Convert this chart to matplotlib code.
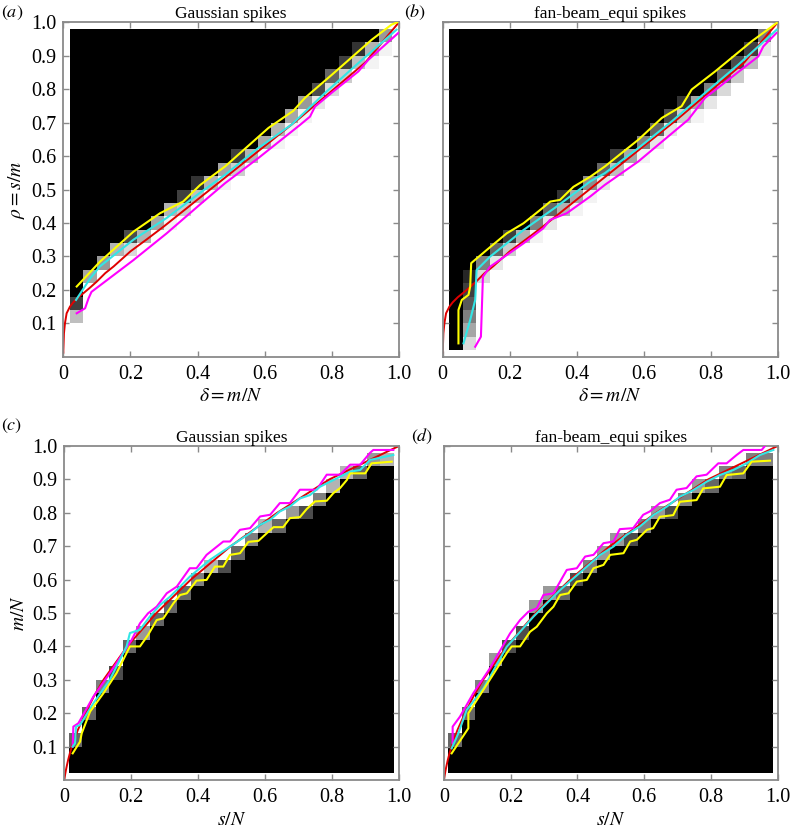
import numpy as np
import matplotlib
matplotlib.use("Agg")
import matplotlib.pyplot as plt

plt.rcParams['font.family'] = ['Liberation Serif', 'DejaVu Serif']
plt.rcParams['font.serif'] = ['Liberation Serif', 'DejaVu Serif']
plt.rcParams['mathtext.fontset'] = 'stix'

# ---------------- data ----------------
titles = ["Gaussian spikes", "fan-beam_equi spikes", "Gaussian spikes", "fan-beam_equi spikes"]
panel_tags = ["a", "b", "c", "d"]
xtick_vals = [0, 0.2, 0.4, 0.6, 0.8, 1.0]
xtick_text = ["0", "0.2", "0.4", "0.6", "0.8", "1.0"]
ytick_vals = [0.1, 0.2, 0.3, 0.4, 0.5, 0.6, 0.7, 0.8, 0.9, 1.0]
ytick_text = ["0.1", "0.2", "0.3", "0.4", "0.5", "0.6", "0.7", "0.8", "0.9", "1.0"]

# success-probability grids: per column, first fully black cell index and the grey
# values of the transition cells next to it
a_black_from = [4, 6, 7, 8, 9, 9, 10, 11, 12, 13, 13, 14, 15, 15, 16, 17, 18, 19, 20, 21, 22, 23, 23, 24]
a_tail = [[0.75, 0.25], [0.35, 0.0], [0.4, 0.0], [0.3, 0.0], [0.7, 0.15], [0.3, 0.0],
          [0.35, 0.0], [0.3, 0.05], [0.75, 0.2], [0.8, 0.25], [0.3, 0.0], [0.35, 0.05],
          [0.75, 0.2], [0.3, 0.0], [0.35, 0.0], [0.3, 0.05], [0.35, 0.05], [0.4, 0.05],
          [0.7, 0.1], [0.6, 0.15], [0.75, 0.2], [0.8, 0.25], [0.3, 0.05], [0.4, 0.05]]
b_black_from = [0, 6, 7, 8, 9, 9, 10, 11, 12, 12, 13, 14, 15, 15, 16, 17, 18, 19, 19, 20, 21, 22, 23, 24]
b_tail = [[], [0.85, 0.75, 0.65, 0.5, 0.35, 0.15], [0.5, 0.15], [0.6, 0.1], [0.75, 0.2], [0.3, 0.0],
          [0.5, 0.05], [0.6, 0.1], [0.8, 0.3], [0.35, 0.05], [0.45, 0.05], [0.6, 0.1],
          [0.75, 0.25], [0.35, 0.0], [0.5, 0.05], [0.6, 0.1], [0.7, 0.1], [0.8, 0.2],
          [0.35, 0.05], [0.5, 0.1], [0.6, 0.15], [0.7, 0.2], [0.75, 0.25], [0.5, 0.1]]
c_black_to = [2, 4, 6, 7, 9, 10, 11, 12, 13, 14, 15, 15, 16, 17, 18, 18, 19, 19, 20, 21, 22, 22, 23, 23]
c_tail = [[0.6], [0.6], [0.5], [0.7], [0.6], [0.4], [0.6], [0.6], [0.6], [0.5], [0.3], [0.7],
          [0.6], [0.5], [0.3], [0.6], [0.4], [0.7], [0.5], [0.3], [0.3], [0.6], [0.4], [0.3]]
d_black_to = [2, 4, 6, 8, 9, 10, 12, 13, 13, 14, 15, 16, 17, 17, 18, 19, 19, 20, 21, 21, 22, 22, 23, 23]
d_tail = [[0.6], [0.6], [0.5], [0.4], [0.7], [0.7], [0.4], [0.4], [0.6], [0.7], [0.5], [0.4],
          [0.4], [0.7], [0.5], [0.4], [0.7], [0.5], [0.4], [0.6], [0.5], [0.6], [0.5], [0.5]]

# theoretical transition (red), delta and rho
red_delta = [0.0, 0.002, 0.005, 0.01, 0.02, 0.03, 0.045, 0.06, 0.08, 0.1, 0.125, 0.15, 0.2,
             0.25, 0.3, 0.4, 0.5, 0.6, 0.7, 0.8, 0.9, 1.0]
red_rho = [0.012, 0.07, 0.1, 0.13, 0.15, 0.163, 0.178, 0.19, 0.207, 0.225, 0.25, 0.27, 0.315,
           0.352, 0.39, 0.47, 0.55, 0.63, 0.71, 0.795, 0.88, 1.0]

# empirical curves, panel (a)
a_yel_x = [0.04, 0.109, 0.209, 0.288, 0.357, 0.407, 0.482, 0.611, 0.685, 0.72, 0.80, 0.919, 0.978, 0.995]
a_yel_y = [0.21, 0.284, 0.374, 0.429, 0.464, 0.513, 0.569, 0.684, 0.735, 0.774, 0.843, 0.948, 0.993, 1.0]
a_cya_x = [0.038, 0.08, 0.109, 0.209, 0.308, 0.407, 0.482, 0.581, 0.68, 0.78, 0.879, 0.993]
a_cya_y = [0.17, 0.234, 0.27, 0.35, 0.415, 0.49, 0.544, 0.624, 0.694, 0.789, 0.878, 0.978]
a_mag_x = [0.04, 0.065, 0.075, 0.084, 0.209, 0.308, 0.407, 0.482, 0.581, 0.705, 0.735, 0.75,
           0.804, 0.879, 0.909, 0.998]
a_mag_y = [0.13, 0.145, 0.174, 0.194, 0.289, 0.369, 0.455, 0.519, 0.594, 0.693, 0.718, 0.748,
           0.793, 0.853, 0.888, 0.968]

# panel (b)
b_yel_x = [0.047, 0.047, 0.057, 0.077, 0.082, 0.085, 0.131, 0.191, 0.241, 0.291, 0.321, 0.35,
           0.39, 0.44, 0.484, 0.584, 0.654, 0.713, 0.743, 0.813, 0.922, 0.997]
b_yel_y = [0.04, 0.14, 0.17, 0.185, 0.21, 0.28, 0.319, 0.369, 0.399, 0.439, 0.464, 0.469,
           0.508, 0.538, 0.569, 0.649, 0.714, 0.749, 0.799, 0.853, 0.943, 0.998]
b_cya_x = [0.062, 0.082, 0.097, 0.101, 0.141, 0.241, 0.34, 0.44, 0.484, 0.584, 0.684, 0.783, 0.882, 0.997]
b_cya_y = [0.04, 0.11, 0.17, 0.259, 0.299, 0.379, 0.449, 0.524, 0.549, 0.624, 0.704, 0.789, 0.873, 0.978]
b_mag_x = [0.097, 0.114, 0.12, 0.141, 0.241, 0.30, 0.32, 0.37, 0.44, 0.484, 0.584, 0.733, 0.783,
           0.942, 0.957, 0.996]
b_mag_y = [0.03, 0.06, 0.239, 0.269, 0.339, 0.384, 0.409, 0.429, 0.479, 0.514, 0.584, 0.709, 0.774,
           0.898, 0.928, 0.968]

# panel (c)
c_yel_x = [0.025, 0.047, 0.052, 0.077, 0.117, 0.156, 0.196, 0.226, 0.25, 0.276, 0.296, 0.326, 0.346,
           0.366, 0.395, 0.425, 0.45, 0.475, 0.495, 0.525, 0.55, 0.58, 0.605, 0.625, 0.654, 0.674,
           0.704, 0.724, 0.749, 0.784, 0.804, 0.824, 0.844, 0.854, 0.899, 0.918, 0.978]
c_yel_y = [0.08, 0.115, 0.14, 0.205, 0.26, 0.32, 0.40, 0.40, 0.434, 0.479, 0.484, 0.529, 0.554,
           0.559, 0.597, 0.599, 0.639, 0.639, 0.674, 0.679, 0.713, 0.716, 0.739, 0.757, 0.757, 0.784,
           0.787, 0.811, 0.834, 0.836, 0.859, 0.874, 0.898, 0.918, 0.918, 0.948, 0.953]
c_cya_x = [0.025, 0.032, 0.035, 0.047, 0.087, 0.136, 0.186, 0.196, 0.226, 0.256, 0.286, 0.316,
           0.346, 0.375, 0.405, 0.435, 0.465, 0.495, 0.525, 0.555, 0.585, 0.615, 0.644, 0.674,
           0.704, 0.734, 0.764, 0.794, 0.824, 0.854, 0.884, 0.913, 0.983]
c_cya_y = [0.10, 0.11, 0.16, 0.165, 0.23, 0.30, 0.40, 0.44, 0.45, 0.49, 0.524, 0.549, 0.579, 0.609,
           0.634, 0.659, 0.679, 0.699, 0.719, 0.739, 0.764, 0.779, 0.804, 0.819, 0.843, 0.853, 0.878,
           0.893, 0.908, 0.923, 0.928, 0.958, 0.973]
c_mag_x = [0.025, 0.027, 0.042, 0.087, 0.136, 0.201, 0.226, 0.25, 0.276, 0.306, 0.336, 0.375, 0.395,
           0.425, 0.475, 0.495, 0.525, 0.555, 0.585, 0.615, 0.644, 0.674, 0.704, 0.754, 0.784, 0.824,
           0.854, 0.884, 0.913, 0.923, 0.983]
c_mag_y = [0.10, 0.16, 0.17, 0.25, 0.32, 0.419, 0.469, 0.499, 0.519, 0.559, 0.579, 0.634, 0.634,
           0.674, 0.714, 0.714, 0.749, 0.754, 0.789, 0.794, 0.829, 0.829, 0.869, 0.869, 0.914, 0.914,
           0.944, 0.944, 0.979, 0.988, 0.988]

# panel (d)
d_yel_x = [0.023, 0.073, 0.073, 0.118, 0.188, 0.203, 0.228, 0.258, 0.278, 0.308, 0.328, 0.348, 0.373,
           0.398, 0.428, 0.448, 0.478, 0.498, 0.538, 0.558, 0.578, 0.608, 0.627, 0.647, 0.687, 0.707,
           0.757, 0.777, 0.827, 0.847, 0.897, 0.922, 0.977]
d_yel_y = [0.08, 0.155, 0.20, 0.27, 0.38, 0.40, 0.40, 0.444, 0.459, 0.499, 0.519, 0.554, 0.559,
           0.594, 0.599, 0.634, 0.644, 0.674, 0.679, 0.714, 0.719, 0.749, 0.754, 0.788, 0.793, 0.833,
           0.838, 0.873, 0.878, 0.913, 0.918, 0.953, 0.956]
d_cya_x = [0.023, 0.043, 0.068, 0.118, 0.188, 0.228, 0.268, 0.308, 0.348, 0.388, 0.428, 0.468, 0.508,
           0.547, 0.587, 0.627, 0.667, 0.707, 0.747, 0.787, 0.827, 0.867, 0.907, 0.947, 0.987]
d_cya_y = [0.095, 0.14, 0.21, 0.274, 0.399, 0.444, 0.489, 0.529, 0.569, 0.604, 0.639, 0.674, 0.699,
           0.734, 0.759, 0.793, 0.818, 0.848, 0.868, 0.893, 0.913, 0.928, 0.948, 0.973, 0.988]
d_mag_x = [0.026, 0.026, 0.048, 0.088, 0.138, 0.198, 0.228, 0.253, 0.278, 0.298, 0.328, 0.368, 0.398,
           0.423, 0.448, 0.478, 0.508, 0.527, 0.567, 0.597, 0.617, 0.647, 0.677, 0.697, 0.727, 0.757,
           0.787, 0.822, 0.847, 0.877, 0.897, 0.952, 0.962]
d_mag_y = [0.11, 0.16, 0.19, 0.26, 0.335, 0.439, 0.479, 0.504, 0.514, 0.554, 0.559, 0.629, 0.634,
           0.669, 0.674, 0.709, 0.714, 0.751, 0.754, 0.794, 0.804, 0.829, 0.839, 0.869, 0.874, 0.909,
           0.914, 0.948, 0.948, 0.973, 0.988, 0.988, 1.0]

# ---------------- grid geometry ----------------
top_x_edges = np.linspace(0.02, 0.98, 25)
top_y_edges = np.linspace(0.02, 0.98, 25)
bot_x_edges = np.linspace(0.013, 0.985, 25)
bot_y_edges = np.linspace(0.02, 0.98, 25)


def grid_top(black_from, tail):
    g = np.zeros((24, 24))
    for j, (k, t) in enumerate(zip(black_from, tail)):
        g[k:, j] = 1.0
        for n, v in enumerate(t):
            i = k - 1 - n
            if i >= 0:
                g[i, j] = v
    return g


def grid_bot(black_to, tail):
    g = np.zeros((24, 24))
    for j, (k, t) in enumerate(zip(black_to, tail)):
        g[:k, j] = 1.0
        for n, v in enumerate(t):
            i = k + n
            if i < 24:
                g[i, j] = v
    return g


grids = [grid_top(a_black_from, a_tail), grid_top(b_black_from, b_tail),
         grid_bot(c_black_to, c_tail), grid_bot(d_black_to, d_tail)]
edges = [(top_x_edges, top_y_edges), (top_x_edges, top_y_edges),
         (bot_x_edges, bot_y_edges), (bot_x_edges, bot_y_edges)]

red_d = np.array(red_delta)
red_r = np.array(red_rho)
red_curves = [(red_d, red_r), (red_d, red_r), (red_r * red_d, red_d), (red_r * red_d, red_d)]
emp = [
    [(a_mag_x, a_mag_y), (a_cya_x, a_cya_y), (a_yel_x, a_yel_y)],
    [(b_mag_x, b_mag_y), (b_cya_x, b_cya_y), (b_yel_x, b_yel_y)],
    [(c_mag_x, c_mag_y), (c_cya_x, c_cya_y), (c_yel_x, c_yel_y)],
    [(d_mag_x, d_mag_y), (d_cya_x, d_cya_y), (d_yel_x, d_yel_y)],
]
emp_colors = ['#ff00ff', '#33e6e6', '#ffff00']

positions = [
    [0.0801, 0.5712, 0.4249, 0.4020],
    [0.5604, 0.5712, 0.4241, 0.4020],
    [0.0814, 0.0624, 0.4237, 0.4016],
    [0.5620, 0.0624, 0.4224, 0.4016],
]
xlabels = [r'$\delta = m/N$', r'$\delta = m/N$', r'$s/N$', r'$s/N$']
ylabels = [r'$\rho = s/m$', None, r'$m/N$', None]
tag_pos = [(0.001, 0.985), (0.512, 0.985), (0.001, 0.488), (0.520, 0.476)]

fig = plt.figure(figsize=(7.9, 8.32), dpi=100)
spine_c = '#8a8a8a'
tick_font = dict(family='Liberation Serif', size=14.5)
for p in range(4):
    ax = fig.add_axes(positions[p])
    xe, ye = edges[p]
    ax.pcolormesh(xe, ye, grids[p], cmap='gray_r', vmin=0, vmax=1, shading='flat', zorder=1)
    rx, ry = red_curves[p]
    ax.plot(rx, ry, color='#e00000', lw=1.4, zorder=2)
    for (lx, ly), col in zip(emp[p], emp_colors):
        ax.plot(lx, ly, color=col, lw=1.5, zorder=3)
    ax.set_xlim(0, 1)
    ax.set_ylim(0, 1)
    ax.set_xticks(xtick_vals)
    ax.set_xticklabels(xtick_text, fontdict=tick_font)
    ax.set_yticks(ytick_vals)
    if p in (0, 2):
        ax.set_yticklabels(ytick_text, fontdict=tick_font)
    else:
        ax.set_yticklabels([])
    ax.tick_params(direction='in', length=4, width=1.0, color=spine_c, top=True, right=True)
    ax.tick_params(axis='x', pad=6)
    ax.tick_params(axis='y', pad=5)
    for s in ax.spines.values():
        s.set_color(spine_c)
        s.set_linewidth(1.3)
    ax.set_title(titles[p], fontsize=12.5, pad=3, family='Liberation Serif')
    ax.set_xlabel(xlabels[p], fontsize=14, labelpad=3)
    if ylabels[p]:
        ax.set_ylabel(ylabels[p], fontsize=14, labelpad=3)
    fig.text(tag_pos[p][0], tag_pos[p][1], r'$(%s)$' % panel_tags[p], fontsize=13,
             ha='left', va='center')

fig.savefig('out.png', dpi=100)
